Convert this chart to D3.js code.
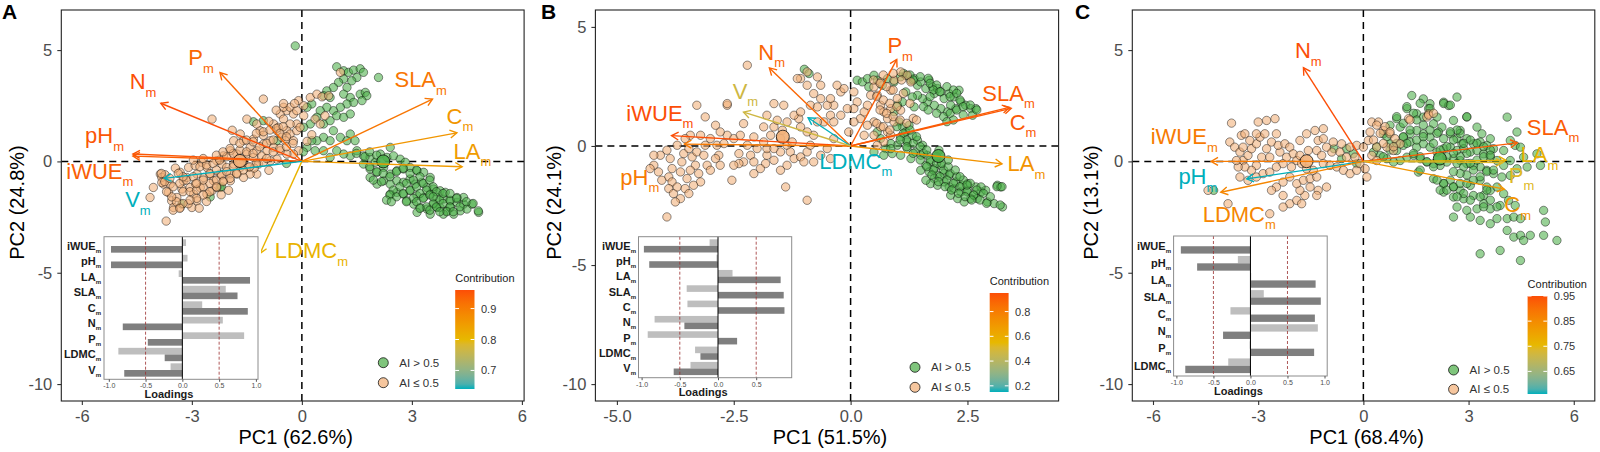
<!DOCTYPE html>
<html>
<head>
<meta charset="utf-8">
<script src="https://cdn.jsdelivr.net/npm/d3@7"></script>
<style>
  body { margin: 0; background: #fff; }
  svg { display: block; font-family: "Liberation Sans", Arial, Helvetica, sans-serif; }
</style>
</head>
<body>
<svg id="chart" width="1600" height="452"></svg>
<script>
// ---------- data ----------
const gradientCols = ["#00AFBB", "#E7B800", "#FC4E07"];
const wetFill = "#4DAF4A";   // AI > 0.5
const dryFill = "#F2B078";   // AI <= 0.5

// Panel A
const traitsA = ["iWUE", "pH", "LA", "SLA", "C", "N", "P", "LDMC", "V"];
const pc1A = [-0.97, -0.97, 0.92, 0.75, 0.89, -0.81, -0.47, -0.24, -0.79];
const pc2A = [0.05, 0.07, -0.05, 0.59, 0.27, 0.55, 0.84, -0.87, -0.16];
const cos2A = [0.94, 0.95, 0.85, 0.91, 0.86, 0.96, 0.93, 0.81, 0.64];
const meansA = [[2.22, 0.0], [-1.69, 0.02]];
const wetA = [
  [-0.18,5.19],[0.95,4.25],[1.14,4.07],[1.27,4.0],[1.41,4.1],[1.59,4.16],[1.68,4.0],[1.5,3.77],[1.36,3.62],[1.14,3.7],[1.0,3.55],[1.23,3.32],[0.86,3.32],[0.68,3.17],[0.59,2.95],[0.77,2.87],[1.14,3.02],[1.32,2.87],[1.59,3.02],[1.73,3.1],[1.77,2.95],[1.64,2.73],[1.41,2.65],[1.23,2.58],[1.05,2.43],[0.86,2.28],[0.68,2.43],[0.5,2.28],[0.41,1.98],[0.27,2.58],[0.14,2.43],[0.23,1.68],[0.05,1.53],[0.59,1.68],[0.77,1.83],[0.95,2.05],[1.14,1.98],[1.32,2.13],[0.86,1.38],[0.59,1.08],[0.41,0.93],[0.77,0.93],[1.05,1.08],[1.23,0.93],[1.32,1.23],[1.45,0.93],[0.27,0.93],[0.14,0.63],[0.36,0.48],[0.59,0.48],[2.09,3.77],[2.41,0.63],
  [1.68,0.25],[1.86,0.18],[2.0,-0.04],[2.14,0.33],[2.32,0.18],[2.5,0.25],[2.68,0.1],[2.82,-0.04],[1.68,-0.12],[1.86,-0.34],[2.05,-0.49],[2.23,-0.27],[2.41,-0.57],[2.59,-0.42],[2.77,-0.34],[2.95,-0.27],[3.14,-0.42],[3.32,-0.49],[3.5,-0.72],[2.23,-0.87],[2.41,-1.02],[2.59,-0.87],[2.77,-0.94],[2.95,-0.79],[3.09,-1.02],[3.27,-0.94],[3.41,-1.17],[3.59,-1.24],[3.77,-1.32],[2.59,-1.39],[2.77,-1.47],[2.95,-1.32],[3.14,-1.54],[3.32,-1.62],[3.5,-1.47],[3.68,-1.62],[3.86,-1.69],[4.05,-1.77],[4.23,-1.84],[4.41,-1.92],[3.05,-1.92],[3.23,-2.07],[3.41,-2.14],[3.59,-1.92],[3.77,-2.07],[3.95,-2.22],[4.14,-2.37],[4.32,-2.22],[4.5,-2.14],[4.64,-1.92],[4.82,-2.29],[3.86,-2.37],[4.05,-2.07],[1.86,-0.72],[2.05,-1.02],[1.5,0.48],[1.32,0.25],[1.14,0.33],[0.95,0.48],[0.77,0.18],[2.41,-1.47],[2.86,-1.77],[3.14,-2.29],[3.5,-2.37],[3.68,-2.07],[3.91,-1.39],[4.41,-1.62],[4.23,-1.62],
  [1.49,0.36],[1.72,0.21],[1.85,0.43],[2.04,0.28],[1.85,-0.24],[2.04,-0.46],[2.22,-0.54],[1.95,-0.84],[2.17,-0.91],[2.4,-0.69],[2.58,-0.46],[2.76,-0.31],[2.95,-0.54],[3.13,-0.39],[3.22,-0.69],[3.04,-0.84],[2.85,-0.99],[2.67,-1.14],[2.49,-1.29],[2.4,-1.51],[2.58,-1.59],[2.76,-1.44],[2.95,-1.29],[3.13,-1.14],[3.31,-0.99],[3.49,-0.84],[3.58,-1.14],[3.4,-1.29],[3.22,-1.44],[3.04,-1.66],[2.85,-1.81],[3.13,-1.81],[3.31,-1.66],[3.49,-1.51],[3.67,-1.36],[3.85,-1.44],[3.76,-1.74],[3.58,-1.89],[3.4,-2.04],[3.22,-2.11],[3.49,-2.19],[3.67,-2.04],[3.85,-1.89],[4.04,-1.74],[4.22,-1.66],[4.04,-2.04],[3.95,-2.26],[3.76,-2.26],[4.13,-2.26],[4.31,-2.04],[4.49,-1.81],[4.67,-1.89],[4.81,-2.22],[3.58,-1.59],[4.04,-1.44],[2.31,-1.74],[2.44,-1.81],
  [-3.27,-1.92],[-2.23,-1.17],[-1.32,1.78],[-1.05,1.83],[-0.68,0.93],[-2.5,-1.6],[-2.19,-1.14],[-0.42,-0.09],[0.04,0.43]
];
const dryA = [
  [-3.7,-2.68],[-4.14,-1.62],[-4.05,-1.17],[-3.86,-0.57],[-3.77,-1.02],[-3.82,-0.72],[-3.59,-1.02],[-3.64,-1.39],[-3.55,-1.77],[-3.5,-2.07],[-3.32,-2.07],[-3.41,-1.62],[-3.27,-1.24],[-3.23,-0.87],[-3.32,-0.49],[-3.09,-0.27],[-3.14,-0.72],[-3.05,-1.17],[-2.95,-1.47],[-2.86,-1.77],[-3.0,-2.07],[-2.77,-1.17],[-2.68,-0.72],[-2.86,-0.57],[-2.91,-0.19],[-2.73,-0.04],[-2.59,-0.27],[-2.5,-0.57],[-2.41,-0.87],[-2.45,-1.32],[-2.59,-1.47],[-2.32,-1.17],[-2.23,-0.57],[-2.18,-0.12],[-2.32,0.03],[-2.14,0.25],[-2.05,-0.27],[-1.95,-0.57],[-1.86,-0.12],[-1.77,0.33],[-1.68,-0.27],[-1.59,0.03],[-1.5,0.33],[-1.45,-0.27],[-1.41,0.63],[-1.32,0.18],[-1.23,0.48],[-1.18,-0.12],[-1.09,0.25],[-1.05,0.78],[-0.95,0.48],[-0.86,0.93],[-0.77,0.63],[-0.68,1.38],[-0.77,1.68],[-0.64,1.53],[-0.59,2.13],[-0.5,1.9],[-0.41,2.28],[-0.5,2.43],[-0.32,2.43],[-0.23,2.13],[-0.14,2.28],[-0.09,2.73],[-0.14,1.68],[-0.32,1.68],[-0.41,1.38],[-0.55,1.08],[-0.45,0.93],[-0.32,1.23],[-0.23,0.93],[-0.14,1.38],[-0.05,1.53],[-0.09,0.48],[-0.23,0.33],[-0.41,0.33],[-0.59,0.48],[-0.68,0.1],[-0.86,0.03],[-1.05,-0.04],[-1.23,-0.57],[-1.41,-0.57],[-1.59,-0.72],[-1.77,-0.57],[-1.95,-0.87],[-2.14,-0.87],[-1.68,1.23],[-1.59,0.93],[-1.86,0.93],[-1.95,0.48],[-1.14,1.38],[-1.05,1.17],[-1.23,1.68],[-1.32,1.0],[0.05,2.05],[0.05,2.5],[0.23,2.87],[0.41,3.02],[0.55,2.9],[0.73,2.95],[1.05,4.0],[0.36,1.9],[0.27,1.2],[0.5,1.68],[0.63,2.05],[0.14,0.9],[-3.82,-0.95],[-3.73,-0.6],[-3.45,-0.3],[-2.9,-1.0],[-2.6,-1.8],[-2.2,-1.5],[-2.0,-1.3],[-2.8,-2.1],[-3.1,-1.9],[-1.3,-0.3],[-0.9,-0.4],[-1.5,1.9],[-1.9,1.4],[-0.9,1.8],[-0.7,2.3],[-2.45,1.9],[-1.05,2.8],[-0.5,2.6],[-0.2,2.6],
  [-3.83,-0.54],[-3.74,-0.91],[-3.51,-1.14],[-3.33,-0.99],[-3.15,-0.84],[-2.96,-0.69],[-3.24,-1.36],[-3.05,-1.36],[-2.87,-1.29],[-2.69,-1.14],[-2.51,-0.99],[-2.33,-0.84],[-2.19,-0.61],[-2.05,-0.46],[-1.87,-0.24],[-1.69,-0.09],[-2.78,-0.24],[-2.6,-0.16],[-2.42,-0.09],[-2.24,0.06],[-2.05,0.21],[-1.87,0.36],[-1.69,0.51],[-1.51,0.43],[-1.33,0.36],[-1.15,0.66],[-0.96,0.81],[-0.78,0.96],[-1.24,-0.09],[-1.42,-0.24],[-1.6,-0.39],[-1.78,-0.54],[-1.96,-0.76],[-2.15,-0.91],[-2.33,-1.14],[-2.51,-1.36],[-2.69,-1.51],[-2.87,-1.66],[-3.05,-1.74],[-3.24,-1.89],[-3.42,-1.81],[-3.55,-1.59],[-3.69,-1.36],[-3.51,-2.19],[-3.33,-2.11],[-1.24,1.26],[-1.05,1.33],[-0.87,1.41],[-0.69,1.48],[-0.51,1.56],[-0.6,1.26],[-0.42,1.11],[-0.78,0.43],[-0.6,0.58],[-0.42,0.66],[-0.24,0.81],[-0.96,0.13],[-2.96,0.06],[-2.69,0.13],[-2.33,0.28],[-2.15,0.43],[-1.96,0.58],[-1.69,0.81],[-1.51,0.96],[-1.33,0.88],[-2.51,-0.54],[-2.33,-0.39],[-2.69,-0.84],[-2.87,-0.99],[-3.24,-0.69],[-3.37,-0.54],[-3.6,-0.76]
];

// Panel B
const traitsB = ["iWUE", "pH", "LA", "SLA", "C", "N", "P", "LDMC", "V"];
const pc1B = [-0.97, -0.90, 0.82, 0.86, 0.87, -0.44, 0.25, -0.23, -0.58];
const pc2B = [0.11, 0.02, -0.19, 0.41, 0.40, 0.83, 0.92, 0.30, 0.36];
const pc2InsetB = [-0.11, -0.02, 0.19, -0.41, -0.40, -0.83, -0.92, -0.30, -0.36];
const cos2B = [0.95, 0.81, 0.71, 0.91, 0.92, 0.88, 0.91, 0.15, 0.47];
const meansB = [[1.88, -0.42], [-1.45, 0.39]];
const wetB = [
  [-0.99,3.22],[-0.89,3.04],[0.14,2.76],[0.25,2.69],[0.39,2.48],[0.36,2.83],[0.50,2.97],[0.57,2.76],[0.68,2.55],[0.79,2.83],[0.93,2.69],[1.07,2.90],[1.18,2.97],[1.29,2.76],[1.36,2.83],[1.43,2.55],[1.50,2.69],[1.61,2.41],[1.68,2.76],[1.75,2.48],[1.79,2.20],[1.86,2.41],[1.93,2.27],[2.00,1.99],[2.11,2.20],[2.21,2.06],[2.32,2.34],[2.36,1.85],[2.46,1.71],[2.57,1.57],[2.68,1.57],[2.25,1.57],[2.14,1.71],[2.07,1.43],[1.93,1.57],[1.79,1.71],[1.64,1.85],[1.54,1.99],[1.43,2.13],[1.32,2.06],[1.18,2.27],[1.11,1.85],[1.00,1.71],[0.93,1.43],[1.04,1.01],[1.11,0.80],[1.18,0.59],[1.07,0.38],[1.00,0.03],[0.86,0.10],[0.75,-0.11],[0.64,0.31],[0.57,0.59],[0.50,-0.25],[0.71,-0.39],[0.89,-0.32],[1.07,-0.39],[1.21,0.17],[1.32,0.45],[1.43,0.24],[1.54,0.03],[1.39,-0.25],[1.29,-0.53],[1.50,-0.39],[1.64,-0.39],[1.71,-0.67],[1.61,-0.81],[1.50,-1.02],[1.68,-1.09],[1.79,-0.95],[1.86,-1.23],[1.93,-0.81],[2.00,-1.16],[1.79,-1.37],[1.71,-1.58],[1.61,-1.44],[1.86,-1.65],[2.00,-1.51],[2.11,-1.72],[2.21,-1.79],[2.36,-1.93],[2.50,-1.86],[2.64,-2.07],[2.79,-1.93],[2.89,-1.86],[2.14,-2.07],[2.29,-2.21],[2.43,-2.35],[2.57,-2.21],[2.71,-2.21],[2.11,-1.23],[2.25,-1.51],[2.39,-1.65],[2.50,-1.58],[2.68,-1.72],[2.93,-2.35],[3.07,-2.42],[3.25,-2.56],[3.14,-1.65],[3.21,-1.72],[2.79,-1.72],[1.25,0.87],[2.61,1.29],[1.36,1.64],[1.21,-0.11],[0.86,-0.11],[1.89,-0.18],
  [1.13,3.05],[1.27,2.98],[1.34,2.77],[1.49,2.91],[1.66,2.84],[1.7,2.63],[1.84,2.56],[1.77,2.35],[1.91,2.28],[2.06,2.49],[2.2,2.35],[2.13,2.07],[2.27,2.21],[2.34,1.93],[1.7,2.07],[1.56,1.65],[1.66,1.51],[1.84,1.37],[1.99,1.23],[2.13,1.37],[2.27,1.51],[2.41,1.65],[2.56,1.72],[2.7,1.51],[2.41,1.3],[2.2,1.09],[2.06,1.02],
  [0.99,0.81],[1.13,0.53],[1.2,0.25],[1.34,0.11],[1.49,-0.03],[1.56,-0.31],[1.7,-0.59],[1.84,-0.73],[1.99,-1.01],[2.13,-1.15],[2.27,-1.29],[2.41,-1.43],[2.56,-1.57],[2.7,-1.85],[2.84,-1.99],[2.99,-2.13],[1.77,-1.01],[1.91,-1.29],[2.06,-1.43],[2.2,-1.57],[2.34,-1.71],[2.49,-1.92],[2.63,-2.06],[2.77,-2.27],[1.95,-0.73],[2.09,-0.87],[2.24,-1.01],[1.84,-0.45],[1.63,-0.17],[1.41,0.39],[1.27,0.67],[1.06,0.25],[1.2,-0.03],[1.34,-0.31],[1.49,-0.59],[1.63,-0.87],[1.74,-1.22],[1.88,-1.5],[2.02,-1.71],[2.16,-1.85],[2.31,-1.99],[2.45,-2.13],[2.59,-2.27],[3.13,-1.71],[3.24,-1.71],[2.91,-2.41],[3.2,-2.48],[2.34,-1.29],[2.49,-1.64],[2.09,-0.59]
];
const dryB = [
  [-4.21,-0.81],[-4.07,-0.39],[-3.93,-0.18],[-3.86,-0.53],[-3.82,-0.95],[-3.89,-1.30],[-3.82,-1.51],[-3.89,-1.79],[-3.79,-2.00],[-3.71,-1.72],[-3.64,-2.21],[-3.54,-1.79],[-3.50,-1.37],[-3.64,-1.09],[-3.61,-0.67],[-3.57,-0.32],[-3.46,-0.11],[-3.39,-0.46],[-3.29,-0.25],[-3.32,-0.81],[-3.43,-1.02],[-3.25,-1.16],[-3.21,-1.51],[-3.36,-1.65],[-3.46,-2.00],[-3.75,-2.35],[-3.93,-2.98],[-3.14,-0.39],[-3.07,-0.81],[-3.00,-1.02],[-3.11,0.03],[-3.00,0.31],[-2.86,0.03],[-2.82,-0.39],[-2.89,-0.53],[-2.71,0.10],[-2.64,0.45],[-2.79,0.59],[-2.89,0.87],[-3.29,1.71],[-3.11,1.22],[-2.64,1.71],[-4.21,-0.39],[-4.29,-0.95],[-4.11,-1.09],[-4.04,-1.44],[-3.71,0.03],[-3.21,0.45],[-3.43,0.45],[-3.54,0.31],
  [-2.50,0.31],[-2.36,0.45],[-2.29,0.94],[-2.21,0.03],[-2.39,-0.32],[-2.29,-0.67],[-2.14,-0.39],[-2.00,-0.11],[-1.86,0.17],[-1.79,-0.39],[-1.82,-0.74],[-1.93,-0.95],[-2.07,-0.67],[-1.71,0.45],[-1.64,0.80],[-1.57,1.08],[-1.64,1.78],[-1.43,1.71],[-1.86,0.80],[-1.79,1.29],[-1.50,0.31],[-1.36,0.03],[-1.29,-0.25],[-1.21,-0.53],[-1.07,-0.46],[-1.00,-0.67],[-0.93,-0.25],[-0.86,0.03],[-0.79,0.45],[-0.93,0.59],[-1.07,0.80],[-1.11,1.15],[-1.21,1.29],[-1.36,1.01],[-1.46,0.66],[-1.07,1.43],[-0.86,1.71],[-0.79,2.20],[-0.64,1.99],[-0.71,1.64],[-0.93,2.55],[-0.71,2.90],[-0.64,2.55],[-1.07,2.83],[-0.93,3.11],[-1.14,2.83],[-2.21,3.39],[-2.64,1.78],[-1.39,-1.72],[-0.93,-2.28],[-2.54,-1.44],[-2.39,-0.74],[-2.07,0.38],[-1.64,-0.60],[-1.50,-1.02],[-0.64,-0.39],[-0.50,-0.11],[-0.36,0.31],[-0.57,1.01],[-0.43,1.29],[-0.36,1.71],[-0.50,1.71],[-0.43,1.99],[-0.21,2.27],[-0.29,2.55],[-0.14,2.41],[0.07,2.27],[0.14,1.85],[0.07,1.57],[0.21,1.15],[0.29,1.43],[0.36,1.71],[0.43,2.13],[0.50,2.48],[0.64,2.69],[0.57,2.13],[0.64,1.71],[0.71,1.43],[0.79,1.15],[0.86,1.57],[0.93,1.01],[0.79,0.59],[0.64,0.80],[0.50,1.01],[0.36,0.87],[0.29,0.45],[-0.07,1.57],[-0.21,1.29],[0.07,1.01],[-0.04,0.59],[-0.36,1.01],[-0.43,-0.53],[-0.79,-0.67],[-1.36,-0.81],[-2.79,-0.81],[-2.50,-0.81],[-2.07,-1.16],[-1.79,-0.11],[-1.25,0.17],[-1.50,-0.25],[-0.71,1.01],[-1.64,-0.11],[1.07,3.11],[0.93,2.76],[0.86,2.34],[1.21,2.97],[1.29,2.69],[1.00,1.99],[1.07,1.50],[0.86,0.45],[0.71,0.17],[0.50,0.45],[0.57,0.03],
  [0.49,2.77],[0.63,2.63],[0.77,2.49],[0.91,2.35],[0.56,2.07],[0.7,1.93],[0.84,1.79],[0.99,1.65],[0.63,1.51],[0.77,1.37],[0.91,1.23],[1.06,1.09],[1.2,0.95],[1.34,1.16],[0.56,0.95],[0.7,0.81],[0.84,0.67],[1.13,2.21],[1.09,2.77],[0.91,3.05],[0.7,2.98],[1.27,1.79],[1.41,1.09]
];

// Panel C
const traitsC = ["iWUE", "pH", "LA", "SLA", "C", "N", "P", "LDMC"];
const pc1C = [-0.94, -0.72, 0.88, 0.95, 0.87, -0.37, 0.86, -0.88];
const pc2C = [0.0, -0.17, 0.01, 0.18, -0.27, 0.91, -0.01, -0.30];
const cos2C = [0.88, 0.56, 0.77, 0.93, 0.83, 0.95, 0.74, 0.86];
const meansC = [[2.18, 0.13], [-1.62, 0.01]];
const wetC = [
  [1.38,2.96],[1.71,2.81],[1.90,2.59],[2.29,2.66],[2.43,2.51],[2.67,2.89],[0.95,1.92],[1.24,2.37],[1.52,2.14],[1.71,1.99],[1.86,2.37],[2.10,1.99],[2.00,1.69],[2.24,1.54],[2.57,1.84],[2.76,1.39],[2.95,1.99],[3.24,1.54],[3.38,1.24],[3.62,1.02],[4.10,1.99],[4.38,1.32],[4.19,0.94],[4.33,0.72],[4.48,0.64],[4.57,0.19],[4.67,-0.25],[4.95,0.34],[5.05,-0.18],[4.00,0.49],[3.71,0.57],[3.52,0.72],[3.33,0.87],[3.14,0.79],[2.95,1.02],[2.81,0.79],[2.67,1.02],[2.48,1.24],[2.29,1.02],[2.14,1.32],[1.90,1.09],[1.71,1.24],[1.52,1.39],[1.33,1.24],[1.14,1.09],[1.05,1.54],[0.76,1.62],[0.57,1.24],[0.76,0.79],[0.95,0.49],[1.14,0.72],[1.33,0.87],[1.52,0.64],[1.71,0.79],[1.90,0.64],[2.10,0.42],[2.29,0.57],[2.48,0.64],[2.67,0.49],[2.86,0.57],[3.05,0.42],[3.24,0.49],[3.43,0.34],[3.62,0.19],[3.81,0.04],[4.00,-0.18],[4.19,0.04],[4.38,-0.33],[4.19,-0.63],[3.95,-0.70],[3.71,-0.55],[3.52,-0.40],[3.33,-0.25],[3.14,-0.18],[2.95,-0.10],[2.76,0.04],[2.57,0.12],[2.38,-0.03],[2.19,-0.18],[2.00,-0.10],[1.81,-0.03],[1.62,0.12],[1.43,0.27],[1.24,0.19],[1.05,0.04],[0.86,-0.03],[0.67,0.12],[0.48,0.27],[0.29,0.42],[1.57,-0.48],[2.00,-0.78],[2.29,-1.00],[2.57,-1.15],[2.76,-1.30],[3.05,-1.08],[3.33,-0.85],[3.52,-1.15],[2.29,-1.38],[2.57,-1.60],[2.86,-1.68],[3.14,-1.53],[3.43,-1.53],[3.62,-1.30],[3.81,-1.15],[4.00,-1.45],[4.14,-1.75],[4.33,-1.98],[3.90,-1.98],[3.62,-2.13],[3.43,-1.90],[3.24,-2.13],[2.95,-2.20],[2.67,-2.05],[2.57,-2.50],[3.05,-2.50],[3.33,-2.65],[3.62,-2.80],[3.81,-2.57],[4.10,-2.57],[4.29,-2.50],[4.48,-2.57],[4.10,-3.10],[4.29,-3.40],[4.48,-3.32],[4.57,-3.55],[4.76,-3.32],[5.14,-2.20],[5.19,-2.72],[5.14,-3.32],[5.52,-3.55],[3.90,-4.00],[3.33,-4.15],[4.48,-4.45],[-0.84,0.57],[-0.48,0.57],[-0.29,0.34],[-0.62,0.12],[-0.19,-0.10],[-4.27,-1.30],
  [1.24,2.46],[1.62,2.61],[1.9,2.38],[2.29,2.6],[2.48,2.53],[2.95,2.01],[0.95,2.01],[1.14,1.71],[1.43,2.16],[1.52,1.86],[1.71,1.63],[1.9,1.41],[2.1,1.26],[1.33,1.41],[1.14,1.11],[0.95,0.81],[1.24,0.81],[1.52,0.96],[1.71,1.11],[2.0,0.81],[2.19,0.51],[2.38,0.66],[2.57,0.96],[2.76,1.26],[2.67,1.41],[2.48,1.33],[2.86,0.81],[3.05,0.96],[3.24,0.81],[3.43,0.66],[3.62,0.51],[2.95,0.36],[2.76,0.21],[2.57,0.36],[2.38,0.21],[2.67,-0.09],[2.86,-0.24],[3.05,-0.09],[3.24,0.06],[3.43,0.21],[3.62,0.28],[3.14,-0.39],[2.95,-0.61],[2.76,-0.54],[2.57,-0.46],[2.48,-0.84],[2.29,-0.99],[2.1,-0.84],[2.19,-1.29],[2.38,-1.29],[2.57,-1.14],[2.76,-0.99],[2.95,-0.99],[3.14,-0.84],[3.33,-0.69],[3.52,-0.46],[3.71,-0.39],[2.86,-1.44],[2.67,-1.59],[3.05,-1.74],[3.33,-1.59],[3.52,-1.29],[3.62,-1.74],[3.43,-2.04],[3.81,-2.04],[1.81,-0.01],[1.62,0.21],[1.43,0.36],[0.76,0.51],[0.57,0.21],[0.38,0.66],[0.67,1.11],[2.0,-0.24],[1.62,-0.39]
];
const dryC = [
  [-3.76,1.72],[-3.48,1.17],[-3.38,1.24],[-3.81,0.87],[-3.67,0.64],[-3.52,0.42],[-3.43,0.04],[-3.29,0.27],[-3.19,0.57],[-3.05,0.79],[-2.95,1.09],[-2.81,1.24],[-3.05,1.24],[-3.24,0.94],[-3.00,1.77],[-2.76,1.84],[-2.52,1.92],[-2.48,1.24],[-2.62,0.87],[-2.76,0.57],[-2.90,0.19],[-3.05,-0.18],[-3.19,-0.40],[-3.38,-0.25],[-3.57,-0.25],[-3.62,0.04],[-3.52,-0.70],[-3.29,-0.85],[-3.05,-0.70],[-2.86,-0.55],[-2.67,-0.48],[-2.48,-0.25],[-2.29,-0.10],[-2.19,0.19],[-2.38,0.42],[-2.43,0.72],[-2.24,0.79],[-2.10,0.64],[-2.00,0.34],[-1.90,0.04],[-2.05,-0.25],[-2.10,-0.70],[-2.29,-0.93],[-2.48,-1.15],[-2.62,-1.30],[-2.29,-1.53],[-2.10,-1.90],[-1.90,-1.75],[-1.76,-1.90],[-1.67,-1.53],[-1.81,-1.30],[-1.90,-1.00],[-1.71,-0.85],[-1.52,-0.78],[-1.33,-0.70],[-1.43,-0.40],[-1.62,-0.33],[-1.76,-0.10],[-1.81,0.27],[-1.57,0.49],[-1.33,0.49],[-1.19,0.27],[-1.14,-0.10],[-0.95,-0.18],[-0.76,-0.25],[-0.57,-0.40],[-0.38,-0.55],[-0.19,-0.40],[-0.10,-0.10],[-0.24,0.19],[-0.48,0.19],[-0.67,0.42],[-0.90,0.42],[-1.05,0.64],[-1.29,0.94],[-1.14,1.02],[-1.81,0.94],[-1.62,1.24],[-1.38,1.39],[-1.14,1.47],[-0.86,0.87],[-0.62,0.79],[-0.38,0.64],[-0.19,0.72],[0.00,0.64],[0.14,0.94],[0.19,1.32],[0.24,1.77],[0.43,1.77],[0.57,1.39],[0.76,1.24],[0.90,1.02],[1.05,0.79],[0.86,0.49],[0.67,0.64],[0.38,0.64],[0.24,0.27],[0.38,0.04],[0.05,-0.33],[0.10,-0.70],[-1.29,-1.30],[-1.05,-1.15],[-1.52,-1.15],[-2.29,-2.05],[-1.33,-1.53],[-2.67,-2.35],[-4.43,-1.30],[-3.86,-1.90],[1.86,2.14],[1.81,1.99],[1.29,1.92],[-3.43,0.64],[-2.67,0.19],
  [1.86,2.08],[2.0,2.16],[1.33,1.86],[0.38,1.63],[0.62,1.56],[0.76,1.33],[0.48,1.26],[0.29,0.96],[0.57,0.81],[0.86,0.66]
];

// ---------- layout (pixel positions of each panel) ----------
const labelPosA = [[-5.51,-0.42],[-5.38,1.18],[4.65,0.48],[3.24,3.68],[4.31,2.04],[-4.33,3.61],[-2.75,4.67],[0.26,-3.98],[-4.47,-1.69]];
const labelPosB = [[-4.08,1.40],[-4.51,-1.29],[3.76,-0.73],[3.38,2.24],[3.69,1.02],[-1.69,3.96],[1.06,4.24],[0.11,-0.62],[-2.25,2.32]];
const labelPosC = [[-5.11,1.14],[-4.72,-0.66],[5.02,0.33],[5.41,1.56],[4.40,-1.92],[-1.57,5.0],[4.51,-0.61],[-3.54,-2.34]];

const panels = [
  {
    letter: "A", letterX: 2, yTitleX: 17,
    box: { x0: 61.3, x1: 524.1, y0: 10, y1: 401 },
    xDomain: [-6.56, 6.06], yDomain: [-10.76, 6.8],
    xTicks: [-6, -3, 0, 3, 6], xFmt: d => String(d),
    xTitle: "PC1 (62.6%)", yTitle: "PC2 (24.8%)",
    traits: traitsA, pc1: pc1A, pc2: pc2A, pc2Inset: pc2A, cos2: cos2A, arrowScale: 4.75,
    labelPos: labelPosA, wet: wetA, dry: dryA, means: meansA,
    inset: { x0: 104, x1: 258, y0: 236.7, y1: 379.3, r: [108.8, 255.9], labelRight: 101, ticks: [-1, -0.5, 0, 0.5, 1] },
    legend: { cx: 383.3, y1: 362.7, y2: 382.7 },
    cbar: { x: 455.2, w: 19.3, y0: 290, y1: 389, titleY: 282, ticks: [0.7, 0.8, 0.9], fmt: d => d.toFixed(1) }
  },
  {
    letter: "B", letterX: 541, yTitleX: 554,
    box: { x0: 595.4, x1: 1058.6, y0: 10, y1: 401 },
    xDomain: [-5.46, 4.45], yDomain: [-10.71, 5.71],
    xTicks: [-5, -2.5, 0, 2.5], xFmt: d => d.toFixed(1),
    xTitle: "PC1 (51.5%)", yTitle: "PC2 (24.1%)",
    traits: traitsB, pc1: pc1B, pc2: pc2B, pc2Inset: pc2InsetB, cos2: cos2B, arrowScale: 3.95,
    labelPos: labelPosB, wet: wetB, dry: dryB, means: meansB,
    inset: { x0: 638.5, x1: 791.7, y0: 236.7, y1: 377.7, r: [641.6, 794.4], labelRight: 636, ticks: [-1, -0.5, 0, 0.5] },
    legend: { cx: 915, y1: 367.3, y2: 387.3 },
    cbar: { x: 989.7, w: 18.9, y0: 293, y1: 392, titleY: 285, ticks: [0.2, 0.4, 0.6, 0.8], fmt: d => d.toFixed(1) }
  },
  {
    letter: "C", letterX: 1075, yTitleX: 1091,
    box: { x0: 1132.3, x1: 1594.8, y0: 10, y1: 401 },
    xDomain: [-6.59, 6.6], yDomain: [-10.76, 6.8],
    xTicks: [-6, -3, 0, 3, 6], xFmt: d => String(d),
    xTitle: "PC1 (68.4%)", yTitle: "PC2 (13.1%)",
    traits: traitsC, pc1: pc1C, pc2: pc2C, pc2Inset: pc2C, cos2: cos2C, arrowScale: 4.62,
    labelPos: labelPosC, wet: wetC, dry: dryC, means: meansC,
    inset: { x0: 1173.6, x1: 1327.2, y0: 236, y1: 376, r: [1176.4, 1324.5], labelRight: 1171, ticks: [-1, -0.5, 0, 0.5, 1] },
    legend: { cx: 1453.6, y1: 370, y2: 389.3 },
    cbar: { x: 1527.6, w: 19.7, y0: 296, y1: 394, titleY: 288, ticks: [0.65, 0.75, 0.85, 0.95], fmt: d => d.toFixed(2) }
  }
];

const svg = d3.select("#chart");
const defs = svg.append("defs");

function drawPanel(p, idx) {
  const g = svg.append("g");
  const b = p.box;
  const x = d3.scaleLinear().domain(p.xDomain).range([b.x0, b.x1]);
  const y = d3.scaleLinear().domain(p.yDomain).range([b.y1, b.y0]);
  const [lo, hi] = d3.extent(p.cos2);
  const colour = d3.scaleLinear().domain([lo, (lo + hi) / 2, hi]).range(gradientCols).interpolate(d3.interpolateLab);

  const clipId = "clip" + idx;
  defs.append("clipPath").attr("id", clipId)
    .append("rect").attr("x", b.x0).attr("y", b.y0).attr("width", b.x1 - b.x0).attr("height", b.y1 - b.y0);
  const plot = g.append("g").attr("clip-path", `url(#${clipId})`);

  // reference lines
  plot.append("line").attr("x1", x(0)).attr("x2", x(0)).attr("y1", b.y0).attr("y2", b.y1)
    .attr("stroke", "#000").attr("stroke-width", 1.5).attr("stroke-dasharray", "7,5");
  plot.append("line").attr("x1", b.x0).attr("x2", b.x1).attr("y1", y(0)).attr("y2", y(0))
    .attr("stroke", "#000").attr("stroke-width", 1.5).attr("stroke-dasharray", "7,5");

  // individuals
  const pts = [...p.wet.map(d => ({ d, f: wetFill })), ...p.dry.map(d => ({ d, f: dryFill }))];
  plot.append("g").selectAll("circle").data(pts).join("circle")
    .attr("cx", o => x(o.d[0])).attr("cy", o => y(o.d[1])).attr("r", 4.2)
    .attr("fill", o => o.f).attr("fill-opacity", 0.58)
    .attr("stroke", "#000").attr("stroke-opacity", 0.55).attr("stroke-width", 0.8);

  // group means
  plot.append("g").selectAll("circle").data(p.means).join("circle")
    .attr("cx", d => x(d[0])).attr("cy", d => y(d[1])).attr("r", 6.5)
    .attr("fill", (d, i) => i === 0 ? wetFill : dryFill).attr("fill-opacity", 0.9)
    .attr("stroke", "#000").attr("stroke-opacity", 0.75).attr("stroke-width", 1);

  // loading arrows
  const ox = x(0), oy = y(0);
  p.traits.forEach((t, i) => {
    const tx = x(p.pc1[i] * p.arrowScale), ty = y(p.pc2[i] * p.arrowScale);
    const col = colour(p.cos2[i]);
    plot.append("line").attr("x1", ox).attr("y1", oy).attr("x2", tx).attr("y2", ty)
      .attr("stroke", col).attr("stroke-width", 1.4);
    const ang = Math.atan2(ty - oy, tx - ox), L = 8, a = Math.PI / 6;
    const p1 = [tx - L * Math.cos(ang - a), ty - L * Math.sin(ang - a)];
    const p2 = [tx - L * Math.cos(ang + a), ty - L * Math.sin(ang + a)];
    plot.append("path").attr("d", `M${p1[0]},${p1[1]}L${tx},${ty}L${p2[0]},${p2[1]}`)
      .attr("fill", "none").attr("stroke", col).attr("stroke-width", 1.4);
  });
  p.traits.forEach((t, i) => {
    const col = colour(p.cos2[i]);
    const lab = g.append("text")
      .attr("x", x(p.labelPos[i][0])).attr("y", y(p.labelPos[i][1]) + 8)
      .attr("text-anchor", "middle").attr("fill", col).style("font-size", "22px");
    lab.append("tspan").text(t);
    lab.append("tspan").attr("dy", 7.5).style("font-size", "13px").text("m");
  });

  // inset loadings bar chart
  const ins = p.inset;
  const ig = g.append("g");
  ig.append("rect").attr("x", ins.labelRight - 42).attr("y", ins.y0 - 3)
    .attr("width", ins.x1 + 3 - (ins.labelRight - 42)).attr("height", b.y1 - 1 - (ins.y0 - 3))
    .attr("fill", "#fff");
  const ix = d3.scaleLinear().domain([-1, 1]).range(ins.r);
  const iy = d3.scalePoint().domain(p.traits).range([ins.y0, ins.y1]).padding(0.6);
  const step = iy.step(), bh = step * 0.43;
  ig.append("g").selectAll("rect").data(p.traits).join("rect")
    .attr("x", (t, i) => ix(Math.min(0, p.pc2Inset[i])))
    .attr("width", (t, i) => Math.abs(ix(p.pc2Inset[i]) - ix(0)))
    .attr("y", t => iy(t) - bh).attr("height", bh).attr("fill", "#BEBEBE");
  ig.append("g").selectAll("rect").data(p.traits).join("rect")
    .attr("x", (t, i) => ix(Math.min(0, p.pc1[i])))
    .attr("width", (t, i) => Math.abs(ix(p.pc1[i]) - ix(0)))
    .attr("y", t => iy(t)).attr("height", bh).attr("fill", "#7F7F7F");
  [-0.5, 0.5].forEach(v => {
    ig.append("line").attr("x1", ix(v)).attr("x2", ix(v)).attr("y1", ins.y0).attr("y2", ins.y1)
      .attr("stroke", "#9B2D2D").attr("stroke-width", 0.8).attr("stroke-dasharray", "3,2");
  });
  ig.append("line").attr("x1", ix(0)).attr("x2", ix(0)).attr("y1", ins.y0).attr("y2", ins.y1)
    .attr("stroke", "#000").attr("stroke-width", 1);
  ig.append("rect").attr("x", ins.x0).attr("y", ins.y0).attr("width", ins.x1 - ins.x0).attr("height", ins.y1 - ins.y0)
    .attr("fill", "none").attr("stroke", "#8C8C8C").attr("stroke-width", 1);
  const iax = d3.axisBottom(ix).tickValues(ins.ticks).tickSize(2.5).tickPadding(1.5).tickFormat(d => d.toFixed(1));
  const iaxG = ig.append("g").attr("transform", `translate(0,${ins.y1})`).call(iax);
  iaxG.select(".domain").remove();
  iaxG.selectAll("line").attr("stroke", "#555");
  iaxG.selectAll("text").attr("fill", "#4D4D4D").style("font-size", "7px").attr("font-family", null);
  ig.append("text").attr("x", (ins.x0 + ins.x1) / 2 - 12).attr("y", ins.y1 + 18.5)
    .attr("text-anchor", "middle").style("font-size", "11px").style("font-weight", "bold").attr("fill", "#1a1a1a")
    .text("Loadings");
  p.traits.forEach(t => {
    const tl = ig.append("text").attr("x", ins.labelRight).attr("y", iy(t) + 3.8)
      .attr("text-anchor", "end").style("font-size", "11px").style("font-weight", "bold").attr("fill", "#1a1a1a");
    tl.append("tspan").text(t);
    tl.append("tspan").attr("dy", 3).style("font-size", "6px").text("m");
  });

  // legend (points)
  const lg = p.legend;
  [[lg.y1, wetFill, "AI > 0.5"], [lg.y2, dryFill, "AI \u2264 0.5"]].forEach(([ly, f, txt]) => {
    g.append("circle").attr("cx", lg.cx).attr("cy", ly).attr("r", 5)
      .attr("fill", f).attr("fill-opacity", 0.72).attr("stroke", "#000").attr("stroke-opacity", 0.8).attr("stroke-width", 0.9);
    g.append("text").attr("x", lg.cx + 16).attr("y", ly + 4).style("font-size", "11.5px").attr("fill", "#333").text(txt);
  });

  // colour bar
  const cb = p.cbar;
  const gid = "grad" + idx;
  const grad = defs.append("linearGradient").attr("id", gid).attr("x1", 0).attr("y1", 1).attr("x2", 0).attr("y2", 0);
  d3.range(0, 1.0001, 0.05).forEach(tt => {
    grad.append("stop").attr("offset", tt).attr("stop-color", colour(lo + tt * (hi - lo)));
  });
  g.append("rect").attr("x", cb.x).attr("y", cb.y0).attr("width", cb.w).attr("height", cb.y1 - cb.y0)
    .attr("fill", `url(#${gid})`);
  const cy = d3.scaleLinear().domain([lo, hi]).range([cb.y1, cb.y0]);
  cb.ticks.forEach(v => {
    const yy = cy(v);
    g.append("line").attr("x1", cb.x).attr("x2", cb.x + cb.w / 5).attr("y1", yy).attr("y2", yy).attr("stroke", "#fff").attr("stroke-width", 1);
    g.append("line").attr("x1", cb.x + cb.w * 4 / 5).attr("x2", cb.x + cb.w).attr("y1", yy).attr("y2", yy).attr("stroke", "#fff").attr("stroke-width", 1);
    g.append("text").attr("x", cb.x + cb.w + 6.5).attr("y", yy + 4).style("font-size", "11px").attr("fill", "#333").text(cb.fmt(v));
  });
  g.append("text").attr("x", cb.x).attr("y", cb.titleY).style("font-size", "11px").attr("fill", "#1a1a1a").text("Contribution");

  // axes
  const xa = g.append("g").attr("transform", `translate(0,${b.y1})`)
    .call(d3.axisBottom(x).tickValues(p.xTicks).tickSize(4).tickPadding(5).tickFormat(p.xFmt));
  const ya = g.append("g").attr("transform", `translate(${b.x0},0)`)
    .call(d3.axisLeft(y).tickValues([5, 0, -5, -10]).tickSize(4).tickPadding(5).tickFormat(d => String(d)));
  [xa, ya].forEach(a => {
    a.select(".domain").remove();
    a.selectAll("line").attr("stroke", "#333").attr("stroke-width", 1.1);
    a.selectAll("text").attr("fill", "#4D4D4D").style("font-size", "16.5px").attr("font-family", null);
  });

  // panel border
  g.append("rect").attr("x", b.x0).attr("y", b.y0).attr("width", b.x1 - b.x0).attr("height", b.y1 - b.y0)
    .attr("fill", "none").attr("stroke", "#222").attr("stroke-width", 1.1);

  // titles
  g.append("text").attr("x", (b.x0 + b.x1) / 2 + 3).attr("y", 444)
    .attr("text-anchor", "middle").style("font-size", "20px").attr("fill", "#000").text(p.xTitle);
  g.append("text").attr("transform", `translate(${p.yTitleX + 7},${(b.y0 + b.y1) / 2 - 3}) rotate(-90)`)
    .attr("text-anchor", "middle").style("font-size", "20px").attr("fill", "#000").text(p.yTitle);
  g.append("text").attr("x", p.letterX).attr("y", 18.5)
    .style("font-size", "21px").style("font-weight", "bold").attr("fill", "#000").text(p.letter);
}

panels.forEach(drawPanel);
</script>
</body>
</html>
